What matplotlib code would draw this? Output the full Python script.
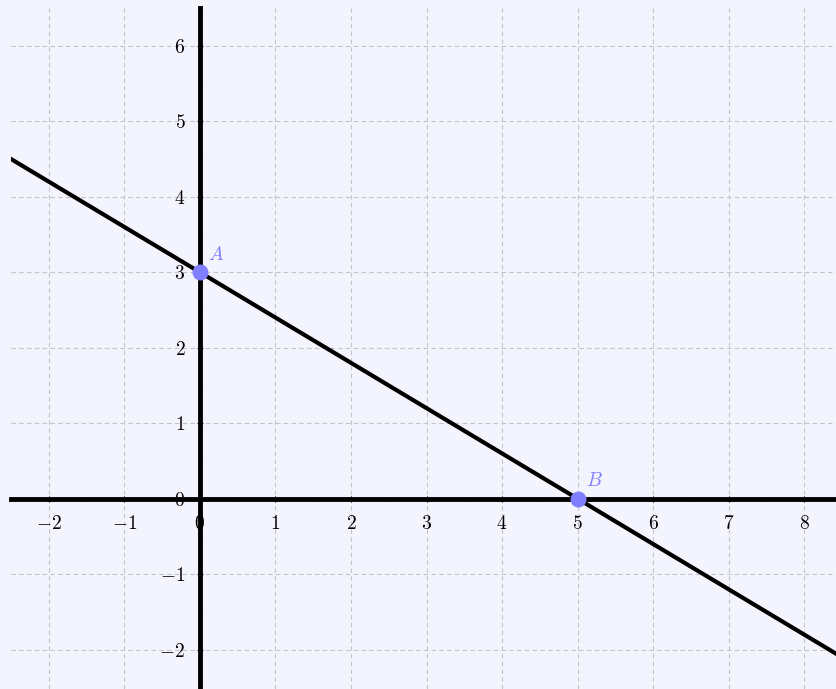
import matplotlib.pyplot as plt
import numpy as np
from matplotlib.ticker import FuncFormatter, MultipleLocator

# points of the line
point_names = ['A', 'B']
point_x = [0, 5]
point_y = [3, 0]

x_ticks = [-2, -1, 0, 1, 2, 3, 4, 5, 6, 7, 8]
y_ticks = [-2, -1, 0, 1, 2, 3, 4, 5, 6]

plt.rcParams['mathtext.fontset'] = 'cm'
plt.rcParams['font.family'] = 'serif'

bg = '#f4f4fe'
pt_color = '#7f7fff'

fig = plt.figure(figsize=(8.36, 6.89), dpi=100, facecolor=bg)
ax = fig.add_axes([11 / 836, 0, 825 / 836, 681 / 689])
ax.set_facecolor(bg)
ax.set_xlim(-2.5, 8.42)
ax.set_ylim(-2.52, 6.5)

# grid
ax.set_xticks(x_ticks)
ax.set_yticks(y_ticks)
ax.xaxis.set_minor_locator(MultipleLocator(0.5))
ax.yaxis.set_minor_locator(MultipleLocator(0.5))
ax.grid(True, which='major', color='#c4c4cc', linestyle=(0, (4, 3)), linewidth=0.8)

# axes through origin
for s in ['top', 'right']:
    ax.spines[s].set_visible(False)
ax.spines['left'].set_position('zero')
ax.spines['bottom'].set_position('zero')
ax.spines['left'].set_linewidth(3.5)
ax.spines['bottom'].set_linewidth(3.5)
ax.tick_params(which='major', direction='inout', length=5, width=0.8, labelsize=14, pad=9)
ax.tick_params(which='minor', direction='inout', length=3, width=0.6)
ax.tick_params(axis='y', pad=8)

fmt = FuncFormatter(lambda v, p: r'$%d$' % v if v >= 0 else r'$-%d$' % abs(v))
ax.xaxis.set_major_formatter(fmt)
ax.yaxis.set_major_formatter(fmt)

# line through A and B
ax.axline((point_x[0], point_y[0]), (point_x[1], point_y[1]), color='black', linewidth=3.0, zorder=3)

ax.scatter(point_x, point_y, s=110, color=pt_color, zorder=5, clip_on=False)
for name, px, py in zip(point_names, point_x, point_y):
    ax.annotate(r'$%s$' % name, (px, py), xytext=(6, 9), textcoords='offset points',
                color=pt_color, fontsize=14, zorder=6)

fig.savefig('out.png', dpi=100, facecolor=bg)
